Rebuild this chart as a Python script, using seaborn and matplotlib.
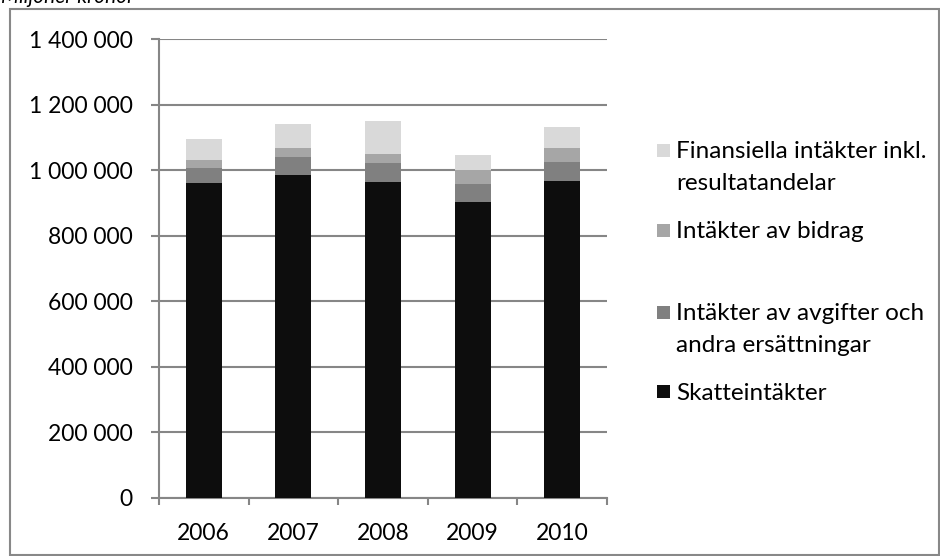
import matplotlib
matplotlib.use("Agg")
import matplotlib.pyplot as plt
import matplotlib.ticker as mticker
from matplotlib.patches import Rectangle
import seaborn as sns
import pandas as pd
import numpy as np

years = ["2006", "2007", "2008", "2009", "2010"]
skatteintakter = [961000, 986000, 964000, 903000, 967000]
avgifter = [46000, 55000, 58000, 55000, 58000]
bidrag = [24000, 27000, 28000, 41000, 43000]
finansiella = [65000, 73000, 99000, 47000, 64000]

series_labels = [
    "Skatteintäkter",
    "Intäkter av avgifter och\nandra ersättningar",
    "Intäkter av bidrag",
    "Finansiella intäkter inkl.\nresultatandelar",
]
colors = ["#0d0d0d", "#808080", "#a6a6a6", "#d9d9d9"]
y_ticks = [0, 200000, 400000, 600000, 800000, 1000000, 1200000, 1400000]
title = "Miljoner kronor"

sns.set_theme(style="white")
plt.rcParams["font.family"] = ["Lato", "DejaVu Sans"]

W, H = 940, 556
fig = plt.figure(figsize=(W / 100, H / 100), dpi=100)
ax = fig.add_axes([159 / W, 1 - 498 / H, (607 - 159) / W, (498 - 39) / H])

values = np.array([skatteintakter, avgifter, bidrag, finansiella], dtype=float)
cum = np.cumsum(values, axis=0)

# draw from top-of-stack down so lower segments overlay
for i in range(len(series_labels) - 1, -1, -1):
    df = pd.DataFrame({"year": years, "value": cum[i]})
    sns.barplot(data=df, x="year", y="value", color=colors[i], width=0.4,
                saturation=1, ax=ax, zorder=3, edgecolor="none")

ax.set_ylim(0, 1400000)
ax.set_xlim(-0.5, len(years) - 0.5)
ax.set_yticks(y_ticks)
ax.yaxis.set_major_formatter(mticker.FuncFormatter(lambda v, p: f"{int(v):,}".replace(",", " ")))
ax.set_xlabel("")
ax.set_ylabel("")

grid_c = "#868686"
ax.grid(axis="y", color=grid_c, linewidth=1.5, zorder=0)
ax.grid(axis="x", visible=False)
for s in ["top", "right"]:
    ax.spines[s].set_visible(False)
for s in ["left", "bottom"]:
    ax.spines[s].set_visible(True)
    ax.spines[s].set_color(grid_c)
    ax.spines[s].set_linewidth(1.5)

ax.tick_params(axis="y", which="major", left=True, direction="out", length=6,
               width=1.5, color=grid_c, pad=13, labelsize=16.5, labelcolor="black")
ax.tick_params(axis="x", which="major", bottom=False, pad=12, labelsize=16.5, labelcolor="black")
ax.set_xticks(np.arange(-0.5, len(years) + 0.5, 1.0), minor=True)
ax.tick_params(axis="x", which="minor", bottom=True, direction="out", length=5,
               width=1.5, color=grid_c)

# manual legend (order as in reference, top to bottom)
legend_y = {3: 150, 2: 230, 1: 312, 0: 391}
sq = 13
for i, yy in legend_y.items():
    fig.add_artist(Rectangle((657 / W, 1 - (yy + sq / 2) / H), sq / W, sq / H,
                             transform=fig.transFigure, facecolor=colors[i],
                             edgecolor="none"))
    fig.text(676 / W, 1 - yy / H, series_labels[i].split("\n")[0], ha="left",
             va="center_baseline", fontsize=17.5, color="black")
    if "\n" in series_labels[i]:
        fig.text(676 / W, 1 - (yy + 31) / H, series_labels[i].split("\n")[1],
                 ha="left", va="center_baseline", fontsize=17.5, color="black")

# outer border
fig.add_artist(Rectangle((10 / W, 1 / H), (939 - 10) / W, (556 - 9 - 1) / H,
                         transform=fig.transFigure, facecolor="none",
                         edgecolor="#888888", linewidth=1.5))

fig.text(1 / W, 1 - 3 / H, title, ha="left", va="baseline", fontsize=15,
         style="italic", color="black")

fig.savefig("out.png", dpi=100)
